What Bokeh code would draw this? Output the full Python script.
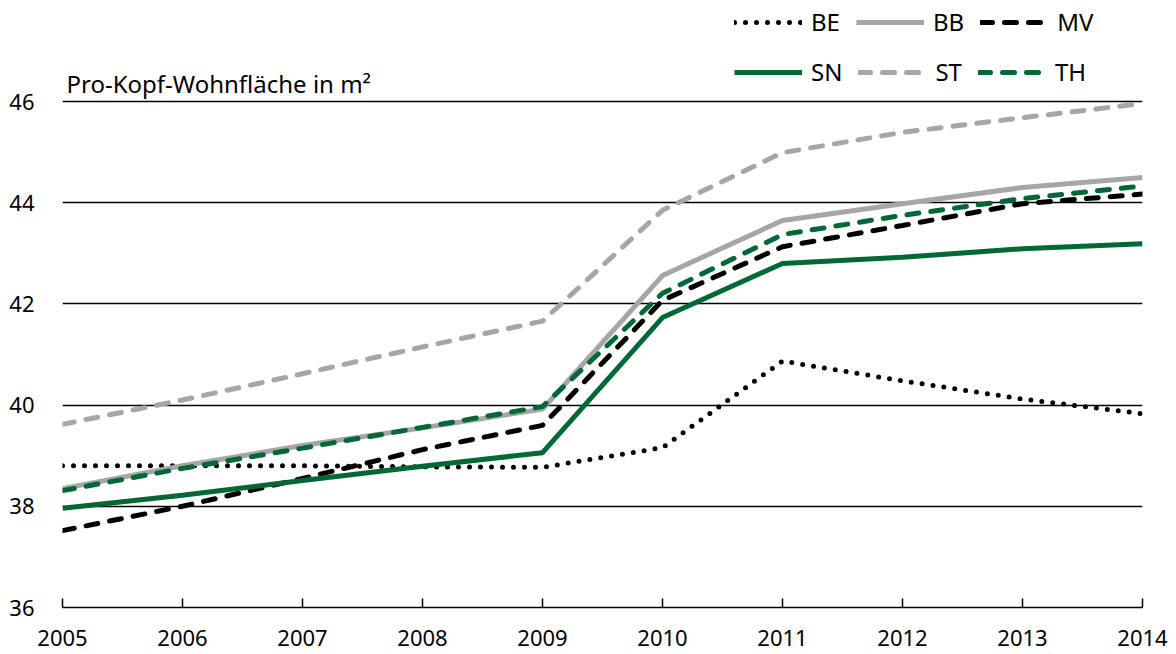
from bokeh.plotting import figure
from bokeh.models import Legend, LegendItem, FixedTicker, Label, Range1d
from bokeh.embed import file_html
from bokeh.resources import INLINE

years = [2005, 2006, 2007, 2008, 2009, 2010, 2011, 2012, 2013, 2014]
BE = [38.80, 38.80, 38.80, 38.78, 38.77, 39.16, 40.87, 40.48, 40.12, 39.83]
BB = [38.35, 38.80, 39.20, 39.55, 39.92, 42.56, 43.65, 43.98, 44.30, 44.50]
MV = [37.52, 38.00, 38.55, 39.12, 39.60, 42.07, 43.13, 43.55, 43.98, 44.17]
SN = [37.96, 38.22, 38.51, 38.79, 39.06, 41.73, 42.80, 42.92, 43.09, 43.19]
ST = [39.62, 40.10, 40.62, 41.15, 41.66, 43.85, 44.99, 45.39, 45.68, 45.96]
TH = [38.31, 38.75, 39.15, 39.56, 39.97, 42.21, 43.37, 43.75, 44.08, 44.33]
y_ticks = [36, 38, 40, 42, 44, 46]
title_text = "Pro-Kopf-Wohnfläche in m²"

FONT = "Noto Sans"
GREEN = "#006834"
GREY = "#A6A6A6"

p = figure(width=1168, height=652, output_backend="svg", toolbar_location=None,
           x_range=Range1d(2005, 2014), y_range=Range1d(36, 36 + 607 / 50.6),
           min_border_left=62, min_border_right=26, min_border_top=0, min_border_bottom=45)
p.outline_line_color = None
p.background_fill_color = "white"
p.border_fill_color = "white"

# axes
p.xaxis.ticker = FixedTicker(ticks=years)
p.xaxis.axis_line_color = "black"
p.xaxis.axis_line_width = 1.5
p.xaxis.major_tick_in = 9
p.xaxis.major_tick_out = 0
p.xaxis.major_tick_line_width = 1.5
p.xaxis.minor_tick_line_color = None
p.xaxis.major_label_text_font = FONT
p.xaxis.major_label_text_font_size = "22px"
p.xaxis.major_label_text_color = "black"
p.xaxis.major_label_standoff = 22

p.yaxis.ticker = FixedTicker(ticks=y_ticks)
p.yaxis.axis_line_color = None
p.yaxis.major_tick_line_color = None
p.yaxis.minor_tick_line_color = None
p.yaxis.major_label_text_font = FONT
p.yaxis.major_label_text_font_size = "22px"
p.yaxis.major_label_text_color = "black"
p.yaxis.major_label_standoff = 22

p.xgrid.grid_line_color = None
p.ygrid.ticker = FixedTicker(ticks=y_ticks[1:])
p.ygrid.grid_line_color = "black"
p.ygrid.grid_line_width = 1.3

lw = 5
r_be = p.line(years, BE, line_color="black", line_width=lw, line_dash="0 11", line_cap="round")
r_bb = p.line(years, BB, line_color=GREY, line_width=lw)
r_mv = p.line(years, MV, line_color="black", line_width=lw, line_dash="12 12", line_cap="round")
r_sn = p.line(years, SN, line_color=GREEN, line_width=lw)
r_st = p.line(years, ST, line_color=GREY, line_width=lw, line_dash="12 12", line_cap="round")
r_th = p.line(years, TH, line_color=GREEN, line_width=lw, line_dash="12 12", line_cap="round")

def make_legend(items, loc):
    lg = Legend(items=items, orientation="horizontal", location=loc,
                glyph_width=68, glyph_height=20, label_standoff=9, spacing=16,
                padding=0, margin=0, border_line_color=None, background_fill_alpha=0,
                label_text_font=FONT, label_text_font_size="24px", label_text_color="black")
    return lg

leg1 = make_legend([LegendItem(label="BE", renderers=[r_be]),
                    LegendItem(label="BB", renderers=[r_bb]),
                    LegendItem(label="MV", renderers=[r_mv])], (672, 569))
leg2 = make_legend([LegendItem(label="SN", renderers=[r_sn]),
                    LegendItem(label="ST", renderers=[r_st]),
                    LegendItem(label="TH", renderers=[r_th])], (672, 519))
p.add_layout(leg1, "center")
p.add_layout(leg2, "center")

p.add_layout(Label(x=2005, y=46, x_offset=4, y_offset=18, text=title_text,
                   text_font=FONT, text_font_size="24px", text_color="black",
                   text_baseline="alphabetic"))

open("out.html", "w").write(file_html(p, INLINE))
